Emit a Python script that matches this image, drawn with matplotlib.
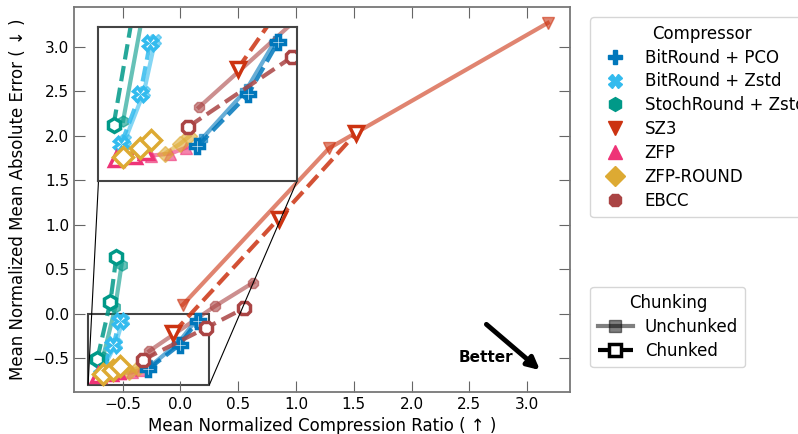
import matplotlib
matplotlib.use("Agg")
import matplotlib.pyplot as plt
from matplotlib.lines import Line2D
from mpl_toolkits.axes_grid1.inset_locator import mark_inset

# Compressors, colours, markers
names = ["BitRound + PCO", "BitRound + Zstd", "StochRound + Zstd", "SZ3", "ZFP", "ZFP-ROUND", "EBCC"]
colors = ["#0077BB", "#33BBEE", "#009988", "#CC3311", "#EE3377", "#DDAA33", "#AA4444"]
markers = ["P", "X", "h", "v", "^", "D", "8"]

# Unchunked (x = compression ratio, y = error)
unchunked_x = [
    [-0.26, -0.02, 0.13],
    [-0.66, -0.56, -0.50],
    [-0.67, -0.565, -0.51],
    [0.02, 1.285, 3.18],
    [-0.52, -0.42, -0.34],
    [-0.45, -0.37, -0.32],
    [-0.27, 0.30, 0.63],
]
unchunked_y = [
    [-0.59, -0.33, -0.08],
    [-0.59, -0.34, -0.07],
    [-0.49, 0.07, 0.55],
    [0.10, 1.86, 3.27],
    [-0.67, -0.66, -0.63],
    [-0.66, -0.61, -0.57],
    [-0.42, 0.085, 0.35],
]
# Chunked
chunked_x = [
    [-0.278, -0.008, 0.15],
    [-0.68, -0.58, -0.527],
    [-0.72, -0.607, -0.555],
    [-0.065, 0.85, 1.52],
    [-0.71, -0.61, -0.55],
    [-0.67, -0.58, -0.52],
    [-0.325, 0.22, 0.55],
]
chunked_y = [
    [-0.623, -0.35, -0.078],
    [-0.61, -0.35, -0.083],
    [-0.51, 0.133, 0.64],
    [-0.22, 1.07, 2.03],
    [-0.69, -0.67, -0.65],
    [-0.68, -0.63, -0.59],
    [-0.52, -0.16, 0.06],
]

plt.rcParams["font.size"] = 11

fig = plt.figure(figsize=(7.98, 4.34), dpi=100)
ax = fig.add_axes([0.093, 0.097, 0.621, 0.887])
axins = ax.inset_axes([0.049, 0.549, 0.401, 0.40])


def draw(a):
    for i in range(len(names)):
        a.plot(unchunked_x[i], unchunked_y[i], "-", color=colors[i], lw=3, alpha=0.6,
               marker=markers[i], ms=8, mec=colors[i], mfc=colors[i])
    for i in range(len(names)):
        a.plot(chunked_x[i], chunked_y[i], "--", color=colors[i], lw=3, alpha=0.85)
        a.plot(chunked_x[i], chunked_y[i], ls="none", marker=markers[i], ms=10,
               mec=colors[i], mfc="white", mew=2.5)


draw(ax)
draw(axins)

ax.set_xlim(-0.92, 3.37)
ax.set_ylim(-0.88, 3.45)
ax.set_xlabel("Mean Normalized Compression Ratio ( \u2191 )", fontsize=12)
ax.set_ylabel("Mean Normalized Mean Absolute Error ( \u2193 )", fontsize=12)
ax.tick_params(direction="in", length=8, top=True, right=True, color="#666666", labelsize=11)
for s in ax.spines.values():
    s.set_color("#777777")
    s.set_linewidth(1.3)

axins.set_xlim(-0.8, 0.25)
axins.set_ylim(-0.8, 0.0)
axins.set_xticks([])
axins.set_yticks([])
for s in axins.spines.values():
    s.set_color("#444444")
    s.set_linewidth(1.5)

pp, c1, c2 = mark_inset(ax, axins, loc1=3, loc2=4, fc="none", ec="#444444", lw=1.5)
for c in (c1, c2):
    c.set_color("black")
    c.set_linewidth(0.8)

# Better arrow
ax.annotate("", xy=(3.13, -0.655), xytext=(2.63, -0.10),
            arrowprops=dict(arrowstyle="-|>", lw=3.5, color="black", mutation_scale=18))
ax.text(2.64, -0.49, "Better", fontsize=11, fontweight="bold", ha="center", va="center")

# Legends
comp_handles = [Line2D([], [], ls="none", marker=markers[i], color=colors[i], ms=10)
                for i in range(len(names))]
leg1 = ax.legend(comp_handles, names, title="Compressor", loc="upper left",
                 bbox_to_anchor=(1.025, 0.995), fontsize=12, title_fontsize=12,
                 handletextpad=0.8, borderpad=0.45, labelspacing=0.35)
ax.add_artist(leg1)

chunk_handles = [
    Line2D([], [], ls="-", color="black", alpha=0.5, lw=3, marker="s", ms=9),
    Line2D([], [], ls="--", color="black", lw=3, marker="s", ms=9, mfc="white", mew=2.5),
]
ax.legend(chunk_handles, ["Unchunked", "Chunked"], title="Chunking", loc="upper left",
          bbox_to_anchor=(1.025, 0.295), fontsize=12, title_fontsize=12,
          handlelength=2.1, handletextpad=0.7, borderpad=0.45, labelspacing=0.35)

fig.savefig("out.png", dpi=100)
